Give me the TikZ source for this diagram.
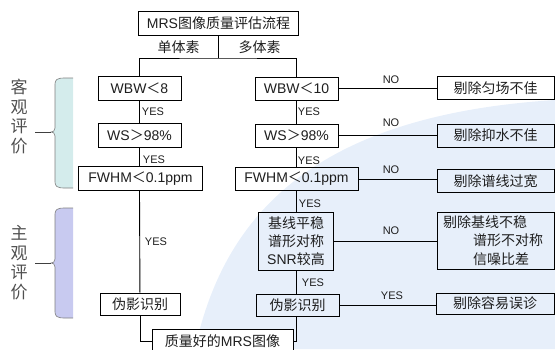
\documentclass[tikz,border=0pt]{standalone}
\usepackage{fontspec}
\setmainfont{Liberation Sans}
\newfontfamily\cjk{Noto Sans CJK SC}
\newcommand\zh[1]{{\cjk #1}}
\definecolor{bgblue}{RGB}{231,239,250}
\definecolor{brcyan}{RGB}{212,236,236}
\definecolor{brlav}{RGB}{200,202,240}
\definecolor{txt}{RGB}{30,30,30}
\definecolor{sidetxt}{RGB}{80,80,80}
\begin{document}
\begin{tikzpicture}[x=1pt,y=-1pt,
  box/.style={draw,line width=0.9pt,inner sep=0pt,font=\fontsize{14}{16}\selectfont,text=txt},
  lbl/.style={inner sep=0pt,font=\fontsize{11}{12}\selectfont,text=txt},
  side/.style={inner sep=0pt,font=\fontsize{17}{19.5}\selectfont\cjk,text=sidetxt,align=center},
  conn/.style={line width=0.9pt}]
\useasboundingbox (0,0) rectangle (555,349);
\clip (0,0) rectangle (555,349);
% background
\fill[bgblue] (195,349) .. controls (225,210) and (320,115) .. (555,100) -- (555,349) -- cycle;
% brackets
\fill[brcyan] (73,78) -- (64,78) .. controls (57,78) and (55,80) .. (55,84) -- (55,128) .. controls (55,131) and (53,132) .. (51,132) .. controls (53,132) and (55,133) .. (55,136) -- (55,182) .. controls (55,186) and (57,188) .. (64,188) -- (73,188) -- cycle;
\draw[gray,line width=0.6pt] (73,78) -- (64,78) .. controls (57,78) and (55,80) .. (55,84) -- (55,128) .. controls (55,131) and (53,132) .. (51,132) .. controls (53,132) and (55,133) .. (55,136) -- (55,182) .. controls (55,186) and (57,188) .. (64,188) -- (73,188);
\draw[darkgray,line width=0.8pt] (35,132) -- (51,132);
\fill[brlav] (73,208) -- (64,208) .. controls (57,208) and (55,210) .. (55,214) -- (55,259) .. controls (55,262) and (53,263) .. (51,263) .. controls (53,263) and (55,264) .. (55,267) -- (55,312) .. controls (55,316) and (57,318) .. (64,318) -- (73,318) -- cycle;
\draw[gray,line width=0.6pt] (73,208) -- (64,208) .. controls (57,208) and (55,210) .. (55,214) -- (55,259) .. controls (55,262) and (53,263) .. (51,263) .. controls (53,263) and (55,264) .. (55,267) -- (55,312) .. controls (55,316) and (57,318) .. (64,318) -- (73,318);
\draw[darkgray,line width=0.8pt] (35,263) -- (51,263);
\node[side] (s1) at (19,116.5) {客\\观\\评\\价};
\node[side] (s2) at (19,262.5) {主\\观\\评\\价};
% nodes
\node[box,minimum width=160,minimum height=24] (title) at (218.5,23) {MRS\zh{图像质量评估流程}};
\node[box,minimum width=83,minimum height=24] (wbw8) at (139.5,88) {WBW\zh{＜}8};
\node[box,minimum width=83,minimum height=24] (ws1) at (139.5,135) {WS\zh{＞}98\%};
\node[box,minimum width=124,minimum height=24] (fw1) at (140.5,178.5) {FWHM\zh{＜}0.1ppm};
\node[box,minimum width=80,minimum height=22] (art1) at (140,304) {\zh{伪影识别}};
\node[box,minimum width=141,minimum height=24,fill=white] (good) at (222.5,341) {\zh{质量好的}MRS\zh{图像}};
\node[box,minimum width=83,minimum height=23] (wbw10) at (296.5,88.5) {WBW\zh{＜}10};
\node[box,minimum width=83,minimum height=23] (ws2) at (296.5,135.5) {WS\zh{＞}98\%};
\node[box,minimum width=123,minimum height=23] (fw2) at (296.5,179) {FWHM\zh{＜}0.1ppm};
\node[box,minimum width=75,minimum height=58,align=center,font=\fontsize{14}{18}\selectfont] (base) at (296,241) {\zh{基线平稳}\\\zh{谱形对称}\\SNR\zh{较高}};
\node[box,minimum width=83,minimum height=22] (art2) at (297.5,305) {\zh{伪影识别}};
\node[box,minimum width=117,minimum height=23] (r1) at (495.5,88) {\zh{剔除匀场不佳}};
\node[box,minimum width=117,minimum height=23] (r2) at (495.5,135.5) {\zh{剔除抑水不佳}};
\node[box,minimum width=117,minimum height=23] (r3) at (495.5,181) {\zh{剔除谱线过宽}};
\node[box,minimum height=57,text width=105,inner xsep=6,align=left,font=\fontsize{14}{18.5}\selectfont] (r4) at (495.5,240.5) {\zh{剔除基线不稳}\\\hspace*{30pt}\zh{谱形不对称}\\\hspace*{30pt}\zh{信噪比差}};
\node[box,minimum width=118,minimum height=21] (r5) at (495,303.5) {\zh{剔除容易误诊}};
% labels
\node[inner sep=0pt,font=\fontsize{14}{16}\selectfont\cjk,text=txt] (l1) at (178.5,47) {单体素};
\node[inner sep=0pt,font=\fontsize{14}{16}\selectfont\cjk,text=txt] (l2) at (259.5,47) {多体素};
\node[lbl] (y1) at (153,112) {YES};
\node[lbl] (y2) at (154,160) {YES};
\node[lbl] (y3) at (156,242) {YES};
\node[lbl] (y4) at (309,112) {YES};
\node[lbl] (y5) at (309,161) {YES};
\node[lbl] (y6) at (310,204) {YES};
\node[lbl] (y7) at (313,283) {YES};
\node[lbl] (n1) at (391,80) {NO};
\node[lbl] (n2) at (391,123) {NO};
\node[lbl] (n3) at (391,170) {NO};
\node[lbl] (n4) at (391,231) {NO};
\node[lbl] (y8) at (392,296) {YES};
% connectors
\coordinate (sp) at (218.5,58);
\draw[conn] (title.south) -- (sp);
\draw[conn] (wbw8.north) |- (sp) -| (wbw10.north);
\draw[conn] (wbw8) -- (ws1);
\draw[conn] (ws1) -- (ws1 |- fw1.north);
\draw[conn] (ws1 |- fw1.south) -- (art1);
\draw[conn] (art1.south) |- (good.west);
\draw[conn] (wbw10) -- (ws2);
\draw[conn] (ws2) -- (fw2);
\draw[conn] (fw2.south) -- (fw2.south |- base.north);
\draw[conn] (fw2.south |- base.south) -- (fw2.south |- art2.north);
\draw[conn] (fw2.south |- art2.south) |- (good.east);
\draw[conn] (wbw10.east) -- (wbw10.east -| r1.west);
\draw[conn] (ws2.east) -- (ws2.east -| r2.west);
\draw[conn] (fw2.east) -- (fw2.east -| r3.west);
\draw[conn] (base.east) -- (base.east -| r4.west);
\draw[conn] (art2.east) -- (art2.east -| r5.west);
\end{tikzpicture}
\end{document}
